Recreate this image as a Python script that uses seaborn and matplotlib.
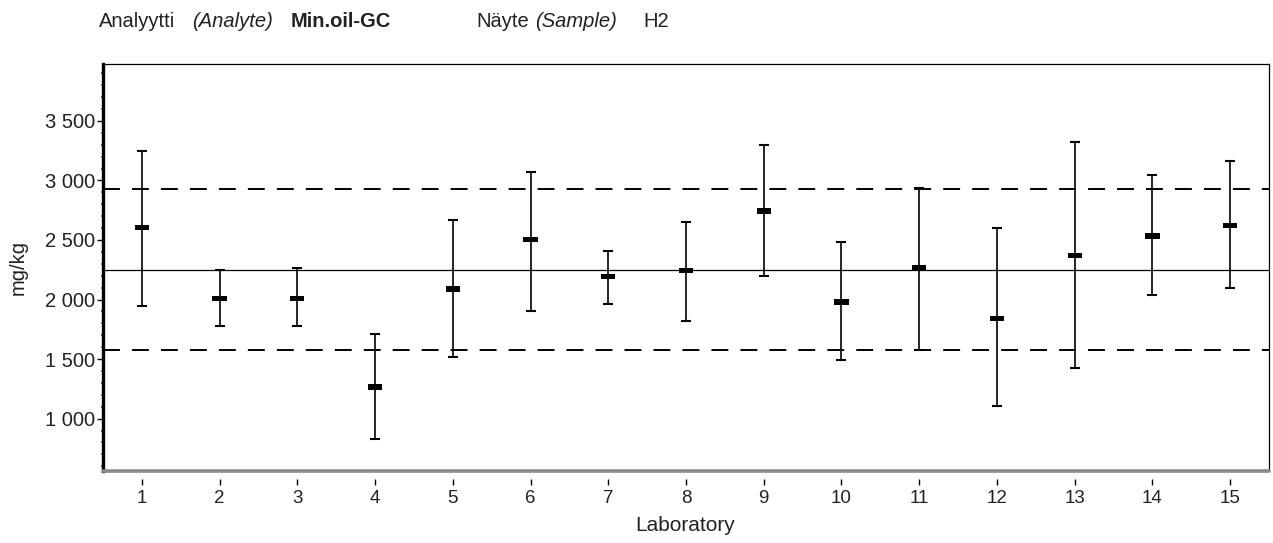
import matplotlib
matplotlib.use("Agg")
import matplotlib.pyplot as plt
from matplotlib.ticker import MultipleLocator, FuncFormatter
import numpy as np
import pandas as pd
import seaborn as sns

# Results per laboratory: reported value and lower/upper bound of its uncertainty
labs = list(range(1, 16))
means = [2605, 2010, 2010, 1265, 2090, 2505, 2195, 2245, 2745, 1980, 2265, 1840, 2370, 2535, 2620]
lower = [1945, 1780, 1775, 826, 1515, 1905, 1960, 1820, 2200, 1490, 1575, 1103, 1425, 2035, 2095]
upper = [3250, 2245, 2262, 1708, 2665, 3075, 2410, 2655, 3300, 2487, 2940, 2598, 3320, 3045, 3160]

# Assigned value and its acceptance limits
assigned = 2250
limit_low = 1575
limit_high = 2925

df = pd.DataFrame({"Laboratory": labs, "value": means, "low": lower, "high": upper})

sns.set_theme(style="ticks")
plt.rcParams["font.family"] = ["Liberation Sans", "DejaVu Sans"]

W, H = 1273, 543
fig = plt.figure(figsize=(W / 100, H / 100), dpi=100)
left, right, top, bottom = 103, 1269, 64, 471
ax = fig.add_axes([left / W, 1 - bottom / H, (right - left) / W, (bottom - top) / H])

ax.set_xlim(0.5, 15.5)
ax.set_ylim(560, 3978)

# Reference lines
ax.axhline(assigned, color="black", lw=0.9, zorder=1)
for lim in (limit_low, limit_high):
    ax.axhline(lim, color="black", lw=1.4, ls=(0, (8.7, 6.2)), zorder=1)

# Uncertainty ranges
yerr = np.vstack([df["value"] - df["low"], df["high"] - df["value"]])
ax.errorbar(df["Laboratory"], df["value"], yerr=yerr, fmt="none", ecolor="black",
            elinewidth=1.2, capsize=3.5, capthick=1.5, zorder=2)

# Reported values as short thick bars
bar_marker = [(-1, -0.38), (1, -0.38), (1, 0.38), (-1, 0.38), (-1, -0.38)]
sns.scatterplot(data=df, x="Laboratory", y="value", marker=bar_marker, s=105,
                color="black", edgecolor="none", linewidth=0, ax=ax, zorder=3, legend=False)

# Frame
for side in ("top", "right"):
    ax.spines[side].set_color("black")
    ax.spines[side].set_linewidth(0.9)
ax.spines["left"].set_color("black")
ax.spines["left"].set_linewidth(2.4)
ax.spines["bottom"].set_position(("outward", 6))
ax.spines["bottom"].set_color("none")
ax.axhline(560, color="#8a8a8a", lw=2.6, clip_on=False, zorder=4)

# Axes ticks
ax.yaxis.set_major_locator(MultipleLocator(500))
ax.yaxis.set_minor_locator(MultipleLocator(100))
ax.yaxis.set_major_formatter(FuncFormatter(lambda v, p: f"{int(v):,}".replace(",", " ")))
ax.tick_params(axis="y", which="major", direction="out", length=4.5, width=1.0,
               pad=1, labelsize=14.5, color="black", labelcolor="#222222")
ax.tick_params(axis="y", which="minor", direction="out", length=1.2, width=1.2, color="#444444")
ax.set_xticks(labs)
ax.set_xticklabels([str(l) for l in labs])
ax.tick_params(axis="x", direction="out", length=4, width=1.0, pad=3.5,
               labelsize=13.5, color="black", labelcolor="#222222")

ax.set_ylabel("mg/kg", fontsize=14.5, color="#222222")
ax.yaxis.set_label_coords((28 - left) / (right - left), 0.5)
ax.set_xlabel("Laboratory", fontsize=15, color="#222222")
ax.xaxis.set_label_coords((685 - left) / (right - left), -(516 - bottom) / (bottom - top))

# Header line
y_head = 1 - 27 / H
hs = 14.5
fig.text(99 / W, y_head, "Analyytti", fontsize=hs, va="baseline", color="#222222")
fig.text(192 / W, y_head, "(Analyte)", fontsize=hs, style="italic", va="baseline", color="#222222")
fig.text(291 / W, y_head, "Min.oil-GC", fontsize=hs, weight="bold", va="baseline", color="#222222")
fig.text(476 / W, y_head, "Näyte", fontsize=hs, va="baseline", color="#222222")
fig.text(535 / W, y_head, "(Sample)", fontsize=hs, style="italic", va="baseline", color="#222222")
fig.text(643 / W, y_head, "H2", fontsize=hs, va="baseline", color="#222222")

fig.savefig("out.png", dpi=100, facecolor="white")
